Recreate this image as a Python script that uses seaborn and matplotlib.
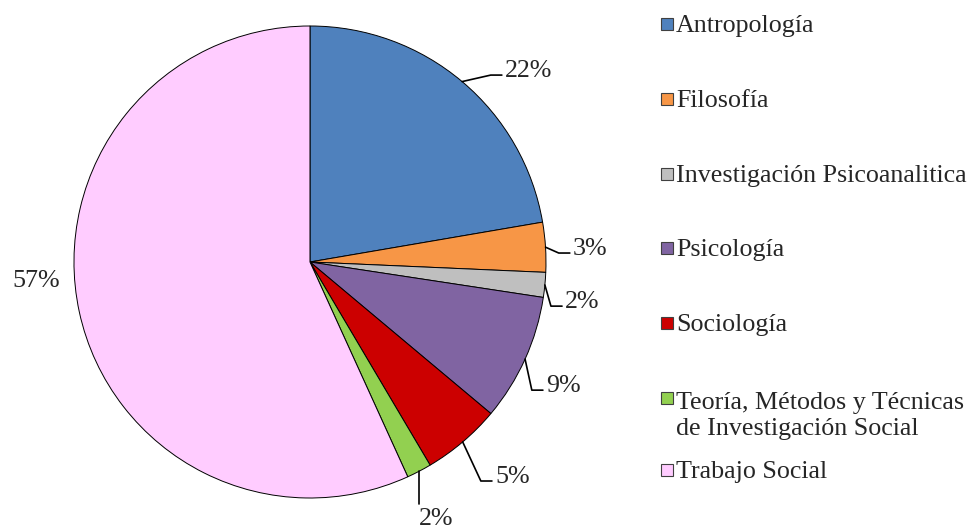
import numpy as np
import matplotlib.pyplot as plt
import seaborn as sns
from matplotlib.patches import Rectangle

# Data
categories = ["Antropología", "Filosofía", "Investigación Psicoanalitica", "Psicología",
              "Sociología", "Teoría, Métodos y Técnicas\nde Investigación Social", "Trabajo Social"]
shares = [22.3, 3.4, 1.7, 8.7, 5.4, 1.7, 56.8]
colors = ["#4F81BD", "#F79646", "#BFBFBF", "#8064A2", "#CC0000", "#92D050", "#FFCCFF"]

# label anchors in pie units (radius 1): text left x, baseline y
label_pos = [(0.826, 0.784), (1.114, 0.030), (1.081, -0.195), (1.0, -0.551),
             (0.784, -0.936), (0.462, -1.115), (-1.263, -0.106)]
# legend first-line baselines in pixels from top
legend_base = [32, 107, 182, 256, 331, 406, 478]
line_px = 29

sns.set_theme(style="white")
plt.rcParams["font.family"] = ["Liberation Serif", "DejaVu Serif"]
fs = 18.7

fig = plt.figure(figsize=(9.76, 5.31), dpi=100)
ax = fig.add_axes([0.0516, 0.0177, 0.532, 0.9778])
wedges, _ = ax.pie(shares, colors=colors, startangle=90, counterclock=False, radius=1,
                   wedgeprops=dict(edgecolor="black", linewidth=0.7))
ax.set_xlim(-1.1, 1.1)
ax.set_ylim(-1.1, 1.1)
ax.set_aspect("equal")

# percentage labels with leader lines
for i, (w, s) in enumerate(zip(wedges, shares)):
    mid = np.deg2rad((w.theta1 + w.theta2) / 2)
    x0, y0 = np.cos(mid), np.sin(mid)
    tx, ty = label_pos[i]
    if i <= 4:
        ax.plot([x0, tx - 0.06, tx - 0.013], [y0, ty + 0.008, ty + 0.008],
                color="black", lw=1.2, clip_on=False)
    elif i == 5:
        ax.plot([x0, x0], [y0, -1.025], color="black", lw=1.2, clip_on=False)
    ax.text(tx, ty, f"{round(s)}%", fontsize=fs, ha="left", va="baseline")

# legend
for cat, col, b in zip(categories, colors, legend_base):
    fig.patches.append(Rectangle((661 / 976, 1 - (b - 2) / 531), 12 / 976, 12 / 531,
                                 transform=fig.transFigure, facecolor=col,
                                 edgecolor="#404040", lw=0.8))
    last = b + line_px * cat.count("\n")
    fig.text(676 / 976, 1 - last / 531, cat, fontsize=fs, ha="left", va="baseline",
             linespacing=1.25)

fig.savefig("out.png", dpi=100)
